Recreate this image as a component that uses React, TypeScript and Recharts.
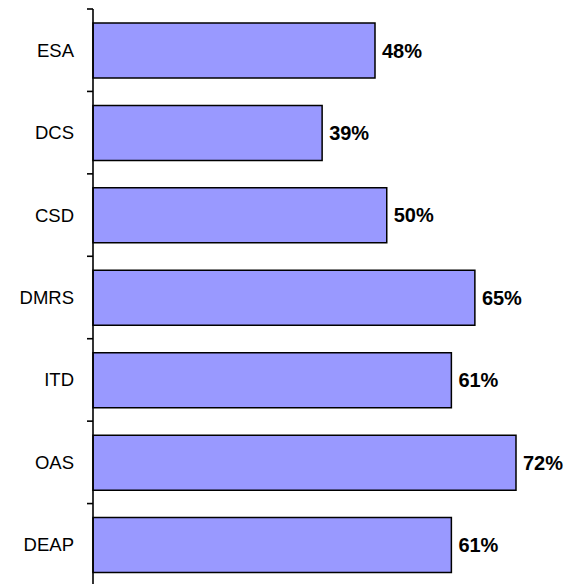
import { Bar, BarChart, LabelList, XAxis, YAxis } from 'recharts';

const units = ['ESA', 'DCS', 'CSD', 'DMRS', 'ITD', 'OAS', 'DEAP'];
const shares = [48, 39, 50, 65, 61, 72, 61];

const data = units.map((name, i) => ({ name, value: shares[i] }));

// category label plus the small marks between categories
function UnitTick(props: any) {
  const { x, y, payload, index } = props;
  const half = Number(payload.offset) || 41.2;
  const ax = Number(x) + 19;
  const cy = Number(y);
  return (
    <g>
      <line x1={ax - 6} x2={ax} y1={cy - half} y2={cy - half} stroke="#000" strokeWidth={1.6} />
      {index === units.length - 1 && (
        <line x1={ax - 6} x2={ax} y1={cy + half} y2={cy + half} stroke="#000" strokeWidth={1.6} />
      )}
      <text x={x} y={y} dy="0.35em" textAnchor="end" fill="#000" fontSize={18.5}>
        {payload.value}
      </text>
    </g>
  );
}

export default function App() {
  return (
    <div style={{ position: 'absolute', left: 0, top: 0, width: 570, height: 584, overflow: 'hidden', background: '#fff' }}>
      <BarChart
        width={570}
        height={590}
        data={data}
        layout="vertical"
        margin={{ top: 9, right: 7, bottom: 4, left: 0 }}
        style={{ fontFamily: 'Arial, "Liberation Sans", sans-serif' }}
      >
        <XAxis type="number" domain={[0, 80]} hide />
        <YAxis
          type="category"
          dataKey="name"
          width={93}
          axisLine={{ stroke: '#000', strokeWidth: 1.6 }}
          tickLine={false}
          tickSize={0}
          tickMargin={19}
          tick={<UnitTick />}
        />
        <Bar
          dataKey="value"
          fill="#9999FF"
          stroke="#000"
          strokeWidth={1.5}
          barSize={55}
          isAnimationActive={false}
        >
          <LabelList
            dataKey="value"
            position="right"
            offset={7}
            formatter={(v: any) => `${v}%`}
            style={{ fill: '#000', fontSize: 20, fontWeight: 'bold' }}
          />
        </Bar>
      </BarChart>
    </div>
  );
}
